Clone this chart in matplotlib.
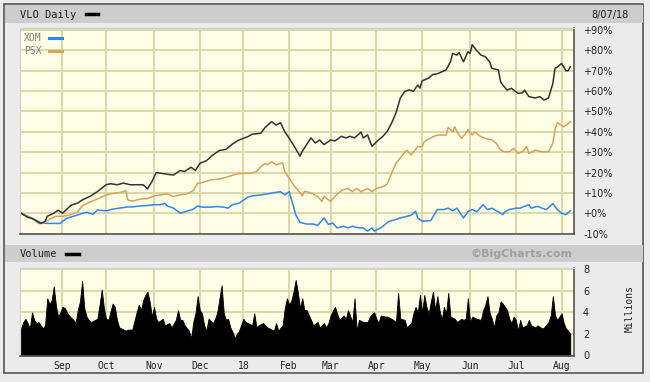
import matplotlib
matplotlib.use("Agg")
import matplotlib.pyplot as plt
from matplotlib.lines import Line2D
from matplotlib.patches import Rectangle
import pandas as pd

# trading calendar Aug 7 2017 - Aug 7 2018
holidays = ["2017-09-04", "2017-11-23", "2017-12-25", "2018-01-01", "2018-01-15",
            "2018-02-19", "2018-03-30", "2018-05-28", "2018-07-04"]
dates = pd.bdate_range("2017-08-07", "2018-08-07")
dates = dates[~dates.isin(pd.to_datetime(holidays))]

# % change, keyed by trading-day index
vlo_day = [0, 3, 5, 9, 11, 12, 15, 17, 19, 21, 23, 26, 28, 32, 35, 37, 39, 41, 44, 47, 50, 53, 56, 58,
           60, 62, 65, 68, 70, 73, 75, 78, 80, 82, 85, 88, 91, 94, 97, 100, 104, 106, 110, 112, 115,
           117, 119, 121, 122, 125, 128, 129, 133, 135, 137, 139, 142, 144, 147, 149, 151, 153, 156,
           157, 159, 160, 161, 164, 166, 168, 170, 172, 174, 176, 178, 180, 182, 183, 184, 187, 189,
           191, 195, 197, 198, 200, 201, 203, 205, 206, 207, 209, 211, 213, 215, 216, 219, 220, 221,
           223, 225, 228, 230, 231, 233, 236, 238, 240, 242, 244, 245, 246, 248, 250, 251, 252]
vlo_pct = [0, -2, -2.5, -5, -4, -1.5, 0, 1.5, 0, 2, 4, 5, 6.5, 8.5, 10.6, 12.3, 14, 14.5, 14, 14.8,
           14, 14, 14, 12, 15.5, 20, 19.5, 19, 18.8, 21, 20.5, 22.6, 21, 24.5, 25.8, 28.6, 30.8, 31.4,
           34, 36, 37.6, 38.8, 39.3, 42.2, 45, 43.3, 44.5, 40, 38.5, 33.5, 28, 30.4, 37, 34.5, 36,
           33.7, 36, 35.5, 37.8, 37, 37.8, 37, 39.9, 37, 38.5, 35.5, 32.9, 36, 37.8, 40.2, 44.3, 49.2,
           56.6, 59.8, 60.6, 59.9, 63, 61.5, 65, 66.4, 68.2, 68.5, 70.4, 74.4, 78.5, 77.7, 78.9, 74.4,
           79.3, 78.5, 82.8, 80, 77.7, 76.9, 74.4, 71.2, 70.4, 64.6, 63, 60.5, 61.4, 58.9, 59.1, 60.5,
           57.3, 56.6, 57.3, 55.6, 56.6, 63.8, 71.2, 71.7, 73.6, 70, 70, 72]

xom_day = [0, 3, 5, 9, 12, 15, 18, 19, 21, 24, 27, 30, 33, 35, 39, 42, 45, 49, 51, 55, 58, 61, 64,
           66, 67, 70, 73, 76, 79, 81, 83, 87, 90, 93, 95, 97, 100, 104, 106, 110, 113, 116, 119,
           121, 123, 125, 126, 128, 131, 134, 136, 137, 139, 141, 143, 145, 148, 150, 152, 155, 157,
           159, 161, 162, 165, 167, 169, 172, 174, 177, 179, 181, 182, 184, 188, 189, 191, 194, 196,
           198, 200, 203, 205, 207, 209, 212, 214, 216, 219, 221, 222, 224, 227, 229, 231, 233, 234,
           237, 239, 241, 244, 246, 248, 250, 252]
xom_pct = [0, -1.5, -2.5, -4.6, -5, -5, -5, -4, -2.5, -1.5, -0.5, 0.5, -0.5, 1.6, 1.2, 2, 2.5, 3.1,
           3.1, 3.6, 3.8, 4.2, 4.2, 4.9, 3.6, 2.5, 0, 1, 2, 3.6, 3, 3, 3.3, 3, 2.5, 4.2, 4.9, 7.9,
           8.5, 9, 9.5, 10.1, 10.6, 9, 10.6, 3.3, -0.8, -4.5, -5.3, -5.3, -6, -4.8, -2.3, -5.5, -4.8,
           -7.2, -6.4, -7.2, -6.4, -7.2, -7.2, -8.8, -7.2, -8.8, -7.2, -5.5, -3.9, -3.1, -2.3, -1.5,
           -1, 1, -2.3, -3.9, -3.6, -1.7, 1.8, 1.8, 2.5, 1.2, 2.5, -2.3, 0.7, 1.8, 0.7, 4.2, 1.8,
           2.5, 0.7, -0.7, 0.7, 1.8, 2.5, 2.5, 3.4, 4.2, 2.5, 3.4, 2.5, 1.8, 4.7, 1.8, 0, -0.7, 1.2]

psx_day = [0, 3, 5, 8, 10, 13, 16, 19, 22, 26, 28, 32, 35, 38, 41, 44, 47, 48, 49, 51, 55, 58, 61,
           64, 67, 70, 73, 76, 79, 81, 83, 87, 90, 93, 96, 99, 102, 105, 108, 110, 112, 113, 115,
           117, 120, 121, 123, 125, 127, 129, 130, 133, 136, 138, 139, 142, 144, 147, 150, 152, 154,
           156, 159, 161, 163, 166, 168, 170, 172, 175, 177, 179, 182, 184, 185, 189, 191, 195, 196,
           198, 199, 200, 202, 204, 205, 207, 208, 211, 213, 216, 218, 220, 222, 224, 226, 228, 230,
           232, 233, 236, 239, 242, 244, 245, 246, 249, 251, 252]
psx_pct = [0, -1.5, -2.5, -5, -5, -3, -1.5, -1.5, -1, 0.8, 3.6, 5.7, 7, 8.5, 9.5, 10, 10.6, 11.2,
           6.5, 6, 7, 7.2, 8.5, 9, 9.5, 8.2, 9, 9.5, 11.1, 14.7, 15, 16.4, 16.7, 17.3, 18.3, 19.3,
           19.6, 19.6, 20.4, 22.9, 24.5, 23.8, 25.3, 23.8, 24.8, 20.4, 17.2, 13.9, 11.4, 8.5, 10.8,
           10, 8.3, 5.9, 8.3, 5.8, 8.2, 11.2, 12.2, 10.6, 12.2, 10.6, 12.2, 10.6, 12.2, 13, 14.3,
           19.6, 24.5, 28.6, 31, 28.6, 32.7, 32.7, 35.2, 37.6, 38.4, 38.4, 42.2, 40, 42.5, 40, 36.8,
           39.2, 41, 38.4, 40, 37.6, 36.8, 36, 34.4, 31, 30.2, 30.2, 31.8, 29.4, 30.2, 32.7, 29.4,
           31, 30.2, 30.2, 34.4, 41, 44.5, 42.5, 44, 45]

# volume, millions
vol_day = [0, 1, 2, 3, 4, 5, 6, 7, 8, 10, 11, 12, 13, 14, 15, 16, 17, 18, 19, 20, 21, 22, 24, 25,
           26, 27, 28, 29, 30, 31, 32, 34, 35, 36, 37, 38, 39, 40, 42, 43, 44, 45, 46, 48, 49, 51,
           53, 54, 55, 56, 57, 58, 59, 60, 61, 62, 63, 65, 66, 68, 69, 71, 72, 73, 74, 75, 77, 78,
           79, 80, 81, 82, 83, 84, 85, 86, 88, 89, 90, 92, 93, 94, 95, 96, 97, 98, 99, 100, 102,
           103, 104, 106, 107, 108, 109, 111, 113, 114, 116, 117, 118, 120, 121, 122, 123, 124, 125,
           126, 127, 128, 129, 130, 131, 133, 134, 136, 137, 139, 140, 141, 142, 144, 146, 148, 149,
           150, 152, 153, 154, 155, 157, 159, 160, 162, 163, 164, 165, 167, 168, 170, 172, 173, 174,
           176, 177, 179, 180, 181, 182, 183, 184, 185, 186, 187, 188, 189, 190, 191, 192, 193, 194,
           195, 196, 197, 199, 200, 202, 203, 204, 205, 206, 207, 209, 211, 212, 213, 214, 215, 216,
           217, 218, 219, 220, 221, 223, 224, 225, 226, 227, 228, 229, 230, 232, 233, 234, 236, 237,
           239, 240, 242, 243, 244, 245, 246, 248, 249, 250, 251, 252]
vol_m = [2.5, 3.1, 3.4, 3.0, 2.5, 4.0, 3.3, 3.0, 3.1, 2.5, 2.8, 5.3, 4.8, 5.1, 6.4, 4.6, 3.6, 4.0,
         4.5, 4.4, 4.0, 3.7, 3.3, 3.0, 4.2, 5.0, 6.9, 4.4, 3.6, 3.3, 3.1, 3.3, 3.4, 4.7, 6.1, 4.4,
         3.4, 3.3, 4.8, 4.5, 3.3, 2.6, 2.5, 2.3, 2.4, 2.4, 4.0, 4.7, 4.2, 5.1, 5.6, 5.9, 5.0, 3.6,
         4.5, 3.4, 3.1, 3.4, 2.8, 3.0, 2.6, 3.3, 4.2, 3.3, 3.3, 2.8, 2.3, 1.6, 3.1, 3.9, 5.5, 4.2,
         3.9, 2.8, 2.3, 3.4, 3.0, 3.4, 4.0, 6.5, 3.9, 3.3, 3.4, 2.6, 2.2, 1.6, 2.0, 2.3, 3.4, 3.1,
         3.0, 2.8, 3.9, 2.6, 2.8, 3.0, 2.6, 2.5, 2.3, 3.0, 2.3, 2.8, 4.4, 5.3, 4.7, 5.1, 5.9, 7.0,
         5.8, 4.4, 5.3, 4.2, 4.2, 3.3, 2.8, 3.1, 2.6, 3.0, 2.6, 3.0, 3.7, 4.5, 3.3, 3.7, 3.4, 4.2,
         3.1, 5.3, 2.3, 3.3, 3.1, 3.1, 3.6, 4.0, 3.4, 3.0, 3.7, 3.6, 3.6, 3.4, 3.1, 5.8, 3.4, 3.3,
         2.6, 3.0, 3.9, 4.5, 4.0, 5.6, 4.0, 5.6, 4.5, 3.9, 5.0, 5.9, 4.2, 5.5, 4.2, 3.3, 4.5, 3.9,
         5.8, 3.6, 3.4, 3.1, 3.4, 3.3, 3.4, 5.3, 3.1, 3.6, 3.4, 3.3, 4.2, 4.7, 5.5, 3.9, 3.4, 2.6,
         3.7, 4.0, 5.0, 4.8, 4.2, 3.4, 3.0, 3.6, 3.3, 2.3, 3.3, 2.6, 2.8, 3.3, 2.8, 2.6, 2.8, 2.5,
         2.6, 3.1, 3.7, 5.5, 3.7, 3.3, 3.9, 3.0, 2.5, 2.3, 2.0]

pct_ticks = list(range(-10, 100, 10))
vol_ticks = [0, 2, 4, 6, 8]

W, H = 650, 382
def fx(x): return x / W
def fy(y): return 1 - y / H

panel_bg = "#fefee6"
grid_c = "#d8d8a8"
bar_c = "#cdcdcd"
txt_c = "#222222"

fig = plt.figure(figsize=(6.5, 3.82), dpi=100, facecolor="#ebebeb")

# outer frame and header bars (behind the axes)
fig.patches.append(Rectangle((fx(4), fy(373)), fx(639), 369 / H, transform=fig.transFigure,
                             facecolor="#ebebeb", edgecolor="#555555", lw=1.2, zorder=-10))
fig.patches.append(Rectangle((fx(5), fy(23)), fx(638), 18 / H, transform=fig.transFigure,
                             facecolor=bar_c, edgecolor="none", zorder=-9))
fig.patches.append(Rectangle((fx(5), fy(262)), fx(638), 17 / H, transform=fig.transFigure,
                             facecolor=bar_c, edgecolor="none", zorder=-9))

# month ticks: first trading day of each month
month_idx = [i for i in range(1, len(dates)) if dates[i].month != dates[i - 1].month]
month_lab = ["18" if dates[i].month == 1 else dates[i].strftime("%b") for i in month_idx]

def style(ax):
    ax.set_facecolor(panel_bg)
    ax.set_xlim(-0.5, 253.7)
    ax.set_xticks(month_idx)
    ax.grid(True, color=grid_c, lw=1.4)
    ax.set_axisbelow(True)
    ax.yaxis.tick_right()
    ax.tick_params(length=0, labelsize=7, colors=txt_c)
    for s in ["top", "left"]:
        ax.spines[s].set_color("#d0d0d0")
    for s in ["bottom", "right"]:
        ax.spines[s].set_color("#555555")
        ax.spines[s].set_linewidth(1.2)

# price panel
ax = fig.add_axes([fx(20), fy(234), fx(554), 206 / H])
style(ax)
ax.plot(xom_day, xom_pct, color="#2f86ef", lw=1.1)
ax.plot(psx_day, psx_pct, color="#d6a25c", lw=1.1)
ax.plot(vlo_day, vlo_pct, color="#333333", lw=1.1)
ax.set_ylim(-10.2, 91)
ax.set_yticks(pct_ticks)
ax.set_yticklabels([("+%d%%" % v) if v >= 0 else ("%d%%" % v) for v in pct_ticks])
ax.tick_params(axis="y", pad=6.5)
ax.tick_params(axis="x", labelbottom=False)

# volume panel
axv = fig.add_axes([fx(20), fy(356), fx(554), 88 / H])
style(axv)
axv.fill_between(vol_day, 0, vol_m, color="black", lw=0.6, edgecolor="black")
axv.set_ylim(-0.05, 8.1)
axv.set_yticks(vol_ticks)
axv.set_xticklabels(month_lab, family="DejaVu Sans Mono")
axv.tick_params(axis="y", pad=6.5)
axv.tick_params(axis="x", pad=3.5)

# header texts
fig.text(fx(20), fy(15), "VLO Daily", family="DejaVu Sans Mono", fontsize=7.5, color=txt_c, va="center")
fig.add_artist(Line2D([fx(86), fx(98)], [fy(14), fy(14)], color="black", lw=2.5))
fig.text(fx(629), fy(15), "8/07/18", fontsize=7, color=txt_c, va="center", ha="right")
fig.text(fx(20), fy(254), "Volume", family="DejaVu Sans Mono", fontsize=7.5, color=txt_c, va="center")
fig.add_artist(Line2D([fx(66), fx(79)], [fy(254), fy(254)], color="black", lw=2.5))
fig.text(fx(573), fy(254), "\u00a9BigCharts.com", fontsize=8, weight="bold", color="#a0a0a0",
         va="center", ha="right")
fig.text(fx(630), fy(308), "Millions", family="DejaVu Sans Mono", fontsize=7, color=txt_c,
         rotation=90, va="center", ha="center")

# legend
fig.text(fx(24), fy(38), "XOM", family="DejaVu Sans Mono", fontsize=7, color="#808080", va="center")
fig.add_artist(Line2D([fx(49), fx(62)], [fy(38), fy(38)], color="#2f86ef", lw=2.2))
fig.text(fx(24), fy(51), "PSX", family="DejaVu Sans Mono", fontsize=7, color="#808080", va="center")
fig.add_artist(Line2D([fx(49), fx(62)], [fy(51), fy(51)], color="#d6a25c", lw=2.2))

fig.savefig("out.png", dpi=100, facecolor=fig.get_facecolor())
